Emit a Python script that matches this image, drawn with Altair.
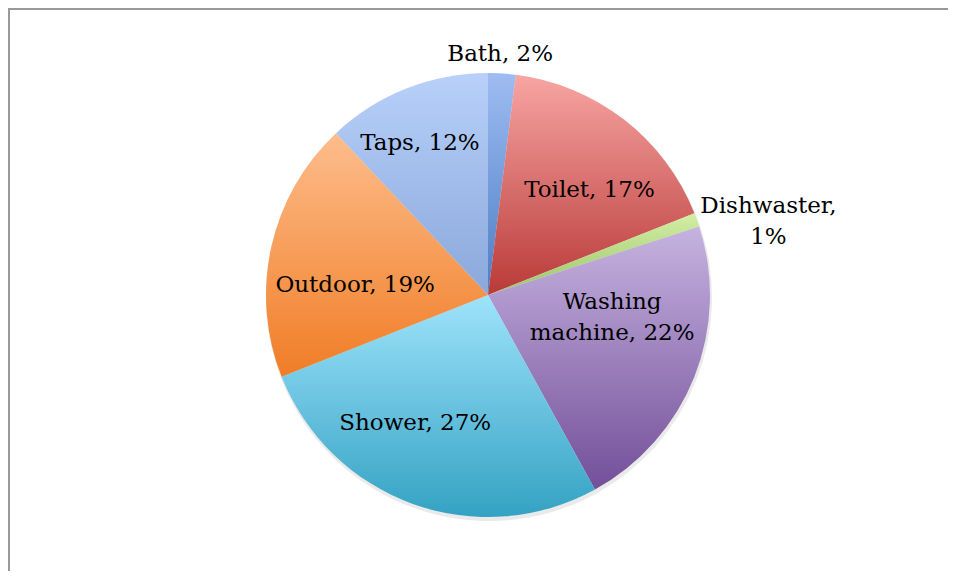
import altair as alt
import pandas as pd

categories = ["Bath", "Toilet", "Dishwaster", "Washing machine", "Shower", "Outdoor", "Taps"]
shares = [2, 17, 1, 22, 27, 19, 12]
labels = ["Bath, 2%", "Toilet, 17%", "Dishwaster,\n1%", "Washing\nmachine, 22%",
          "Shower, 27%", "Outdoor, 19%", "Taps, 12%"]

top_colors = ["#9fbcf2", "#f7a5a3", "#d2eea4", "#c6b3e0", "#9ee3fb", "#fdbd8c", "#b8d0fa"]
bottom_colors = ["#4a7dc4", "#b93a38", "#9cc46a", "#734f99", "#34a2c3", "#f07d26", "#8aa8db"]

# label placement (radius, dx, dy) per slice
label_place = [(241, -3, 0), (146, 12, 10), (280, 17, 6), (126, 7, -39),
               (147, -23, -10), (133, -3, 19), (166, -7, 2)]

df = pd.DataFrame({"order": list(range(len(categories))), "category": categories,
                   "share": shares, "label": labels})

W, H = 940, 563
CX, CY, R = 480, 287, 222
theta_scale = alt.Scale(domain=[0, 100], range=[0, 6.283185307179586])

base = alt.Chart(df).transform_window(
    cum="sum(share)", sort=[alt.SortField("order")], frame=[None, 0]
).transform_calculate(
    start="datum.cum - datum.share", mid="datum.cum - datum.share / 2"
)

layers = []
# soft shadow
layers.append(
    base.mark_arc(radius=R + 1, fill="#bbbbbb", opacity=0.3).encode(
        theta=alt.Theta("start:Q", scale=theta_scale), theta2="cum:Q",
        x=alt.value(CX + 1), y=alt.value(CY + 3))
)
for i, cat in enumerate(categories):
    grad = alt.Gradient(gradient="linear",
                        stops=[alt.GradientStop(color=top_colors[i], offset=0),
                               alt.GradientStop(color=bottom_colors[i], offset=1)],
                        x1=0, y1=0, x2=0, y2=1)
    layers.append(
        base.transform_filter(alt.datum.category == cat).mark_arc(radius=R, fill=grad).encode(
            theta=alt.Theta("start:Q", scale=theta_scale), theta2="cum:Q",
            x=alt.value(CX), y=alt.value(CY))
    )
for i, cat in enumerate(categories):
    r, dx, dy = label_place[i]
    layers.append(
        base.transform_filter(alt.datum.category == cat).mark_text(
            radius=r, dx=dx, dy=dy, font="DejaVu Serif", fontSize=23, color="#000000",
            lineBreak="\n", lineHeight=31, align="center", baseline="middle").encode(
            theta=alt.Theta("mid:Q", scale=theta_scale), text="label:N",
            x=alt.value(CX), y=alt.value(CY))
    )

frame_df = pd.DataFrame({"k": [0]})
top_rule = alt.Chart(frame_df).mark_rule(color="#999999", strokeWidth=2).encode(
    x=alt.value(0), x2=alt.value(W), y=alt.value(1))
left_rule = alt.Chart(frame_df).mark_rule(color="#999999", strokeWidth=2).encode(
    x=alt.value(1), y=alt.value(0), y2=alt.value(H))
layers += [top_rule, left_rule]

chart = alt.layer(*layers).properties(
    width=W, height=H, padding=0,
    autosize=alt.AutoSizeParams(type="none")
).configure_view(stroke=None)

chart.save("out.html", embed_options={"renderer": "svg", "actions": False})
